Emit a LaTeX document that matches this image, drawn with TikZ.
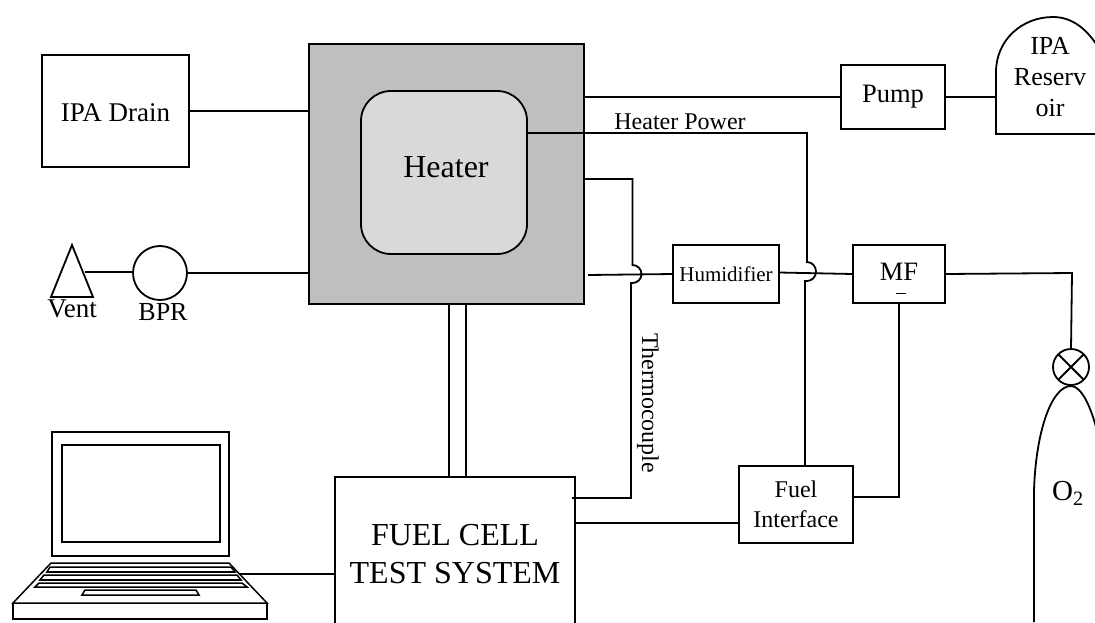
\documentclass[tikz,border=0pt]{standalone}
\usepackage{fontspec}
\setmainfont{Liberation Serif}
\tikzset{
  box/.style={draw=black,line width=1.8pt,inner sep=0pt,outer sep=0pt,align=center,fill=white},
  wire/.style={draw=black,line width=1.8pt},
  lab/.style={inner sep=0pt,outer sep=0pt,align=center},
  lap/.style={draw=black,line width=1.5pt,line join=miter},
}
\begin{document}
\begin{tikzpicture}[x=1pt,y=-1pt]
\useasboundingbox (0,0) rectangle (1095,622);
\clip (0,0) rectangle (1095,622);
% main stack and heater
\node[box,fill=black!25,minimum width=275pt,minimum height=260pt] (stack) at (446.5,174) {};
\node[box,fill=black!15,rounded corners=30pt,minimum width=166pt,minimum height=163pt] (heater) at (444,172.5) {};
\node[lab,font=\fontsize{32}{36}\selectfont] (heatlab) at (446,167) {Heater};
% boxes
\node[box,minimum width=147pt,minimum height=112pt] (drain) at (115.5,111) {};
\node[lab,font=\fontsize{27}{30}\selectfont] (drainlab) at (115.5,113) {IPA Drain};
\node[box,minimum width=104pt,minimum height=64pt,font=\fontsize{26.5}{30}\selectfont] (pump) at (893,97) {Pump};
\node[box,minimum width=106pt,minimum height=58pt,font=\fontsize{21}{24}\selectfont] (humid) at (726,274) {Humidifier};
\node[box,minimum width=92pt,minimum height=58pt] (mf) at (899,274) {};
\node[lab,font=\fontsize{26.5}{30}\selectfont] (mflab) at (899,272) {MF};
\node[box,minimum width=114pt,minimum height=77pt,font=\fontsize{24}{30}\selectfont] (fuel) at (796,504.5) {Fuel\\Interface};
\node[box,minimum width=240pt,minimum height=165pt,anchor=north west] (fcts) at (335,477) {};
\node[lab,font=\fontsize{32}{38}\selectfont] (fctslab) at (455,554) {FUEL CELL\\TEST SYSTEM};
% vent and BPR
\node[circle,box,minimum size=54pt] (bpr) at (160,273) {};
\coordinate (ventA) at (72,245);
\coordinate (ventB) at (93,297);
\coordinate (ventC) at (51,297);
\coordinate (ventR) at (85,272);
\draw[wire] (ventA) -- (ventB) -- (ventC) -- cycle;
\node[lab,font=\fontsize{27}{30}\selectfont] (ventlab) at (72,309) {Vent};
\node[lab,font=\fontsize{26}{30}\selectfont] (bprlab) at (163,312) {BPR};
% reservoir
\coordinate (resBL) at (996,134);
\coordinate (resL) at (996,72);
\coordinate (resT) at (1053,17);
\coordinate (resR) at (1100,50);
\coordinate (resBR) at (1100,134);
\draw[wire] (resBR) -- (resBL) -- (resL) .. controls (996,40) and (1022,17) .. (resT) .. controls (1073,17) and (1088,30) .. (resR);
\coordinate (resIn) at (996,97);
\node[lab,font=\fontsize{26}{31}\selectfont] (reslab) at (1050,77) {IPA\\Reserv\\oir};
% oxygen cylinder
\node[circle,box,minimum size=36pt] (valve) at (1071,367) {};
\draw[wire] (valve.north west) -- (valve.south east);
\draw[wire] (valve.north east) -- (valve.south west);
\coordinate (cylT) at (1071,386);
\draw[wire] (1034,622) -- (1034,490) .. controls (1036,430) and (1052,386) .. (cylT) .. controls (1081,386) and (1090,405) .. (1096,427);
\node[lab,font=\fontsize{29}{32}\selectfont] (o2) at (1068,493) {O\textsubscript{2}};
% connectors
\draw[wire] (drain.east) -- (drain.east -| stack.west);
\draw[wire] (bpr.east) -- (bpr.east -| stack.west);
\draw[wire] (ventR) -- (ventR -| bpr.west);
\draw[wire] (pump.west -| stack.east) -- (pump.west);
\draw[wire] (pump.east) -- (resIn);
\coordinate (hpA) at (807,133);
\coordinate (hpB) at (807,262);
\coordinate (hpC) at (805,281);
\coordinate (hpD) at (805,465);
\coordinate (heatR) at (527,133);
\draw[wire] (heatR) -- (hpA) -- (hpB) arc[start angle=90,end angle=-90,x radius=9pt,y radius=9.5pt] -- (hpC) -- (hpD);
\node[lab,font=\fontsize{24}{28}\selectfont] (hplab) at (680,122) {Heater Power};
\coordinate (tcA) at (584,179);
\coordinate (tcB) at (632.5,179);
\coordinate (tcC) at (632.5,265);
\coordinate (tcD) at (631,283);
\coordinate (tcE) at (631,498);
\coordinate (tcF) at (572,498);
\draw[wire] (tcA) -- (tcB) -- (tcC) arc[start angle=90,end angle=-90,x radius=9pt,y radius=9pt] -- (tcD) -- (tcE) -- (tcF);
\node[lab,rotate=-90,font=\fontsize{24}{28}\selectfont] (tclab) at (648,403) {Thermocouple};
\coordinate (stOut) at (588,275);
\draw[wire] (stOut) -- (humid.west);
\draw[wire] (humid.east |- 0,272.5) -- (mf.west);
\coordinate (mfB) at (899,303);
\coordinate (mfC) at (899,497);
\draw[wire] (mfB) -- (mfC) -- (mfC -| fuel.east);
\draw[wire] (mf.east) -- (1072,273) -- (valve.north);
\coordinate (fcOut) at (575,523);
\draw[wire] (fcOut) -- (fuel.west |- fcOut);
\coordinate (twinA) at (449,304);
\coordinate (twinB) at (466,304);
\draw[wire] (twinA) -- (twinA |- fcts.north);
\draw[wire] (twinB) -- (twinB |- fcts.north);
\coordinate (lapR) at (240,574);
\draw[wire] (lapR) -- (lapR -| fcts.west);
% tiny mark under MF
\draw[line width=0.6pt] (896,293) -- (906,293);
% laptop
\draw[lap] (52,432) rectangle (229,556);
\draw[lap] (62,445) rectangle (220,542);
\draw[lap] (51,563) -- (229,563) -- (267,603) -- (13,603) -- cycle;
\draw[lap] (13,603) -- (13,619) -- (267,619) -- (267,603);
\draw[lap] (50,567) -- (231,567) -- (235,572) -- (47,572) -- cycle;
\draw[lap,line width=1.9pt] (47,572) -- (235,572);
\draw[lap] (44,575) -- (237,575) -- (241,580) -- (40,580) -- cycle;
\draw[lap,line width=1.9pt] (40,580) -- (241,580);
\draw[lap] (39,583) -- (242,583) -- (247,587) -- (35,587) -- cycle;
\draw[lap] (85,590) -- (196,590) -- (199,595) -- (82,595) -- cycle;
\end{tikzpicture}
\end{document}
